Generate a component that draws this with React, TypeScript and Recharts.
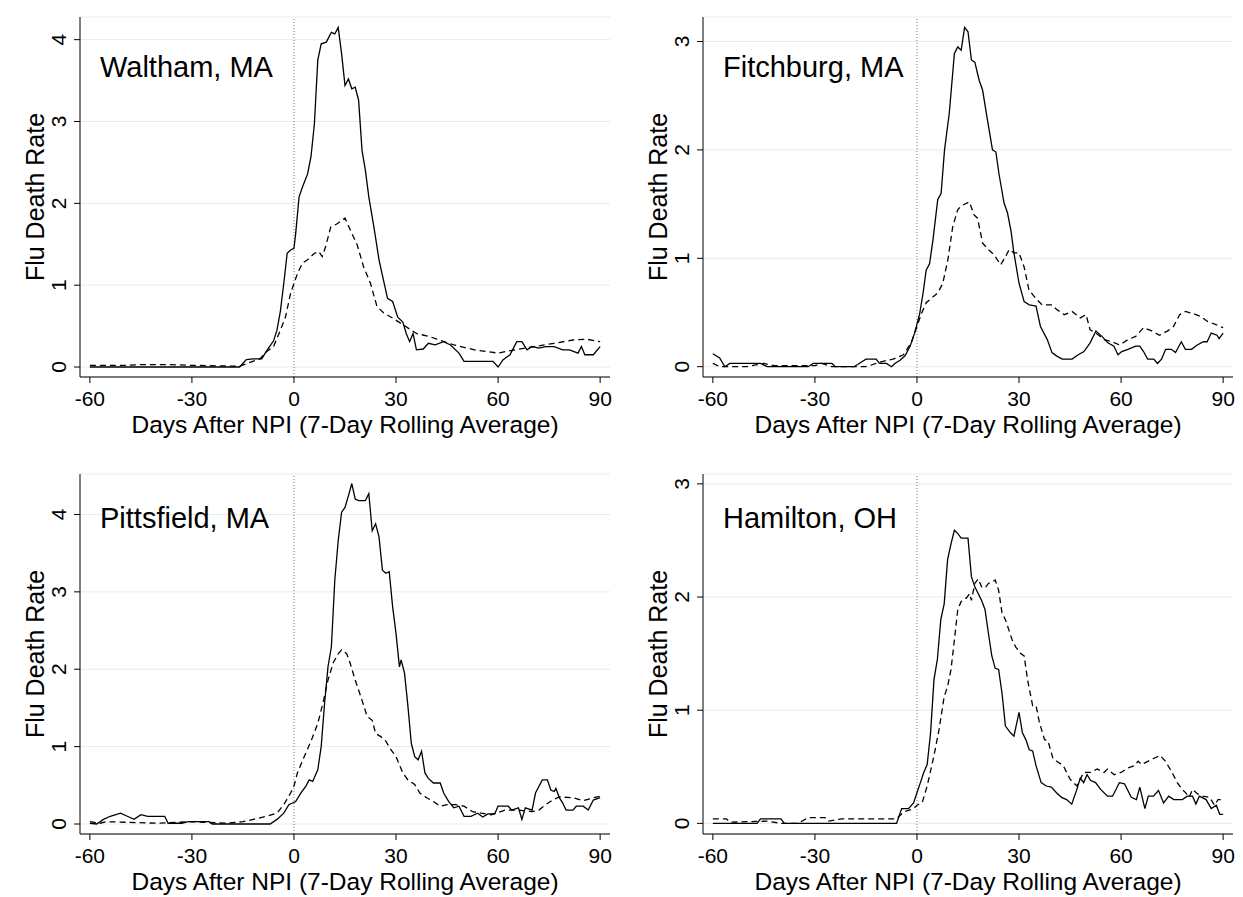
import React from 'react';
import { LineChart, Line, XAxis, YAxis, CartesianGrid, ReferenceLine } from 'recharts';

const FONT = '"Liberation Sans", Arial, Helvetica, sans-serif';

const dayTicks = [-60, -30, 0, 30, 60, 90];
const xTitle = 'Days After NPI (7-Day Rolling Average)';
const yTitle = 'Flu Death Rate';

// [day, rate] pairs: solid = city, dashed = comparison
const walthamCity = [
    [-60, 0], [-16, 0], [-14, 0.09], [-12, 0.1], [-9.5, 0.1], [-8, 0.2], [-6, 0.32], [-5, 0.45], [-4, 0.68],
    [-3, 1.02], [-2, 1.39], [-1, 1.43], [0, 1.45], [0.5, 1.63], [1.5, 2.08], [2.5, 2.2], [4, 2.36], [5, 2.57],
    [6, 2.97], [7, 3.75], [8, 3.95], [9.5, 3.97], [11, 4.09], [12, 4.07], [13, 4.15], [14, 3.83], [15, 3.44],
    [16, 3.52], [17, 3.4], [18, 3.42], [19, 3.26], [20, 2.65], [21, 2.4], [22, 2.08], [23.5, 1.71], [25, 1.31],
    [26, 1.12], [27.5, 0.84], [29, 0.8], [30.5, 0.61], [32, 0.55], [33, 0.41], [34, 0.31], [35, 0.41], [36, 0.21],
    [38, 0.22], [39.5, 0.29], [41.5, 0.27], [44, 0.31], [46, 0.27], [48.5, 0.17], [50, 0.07], [58.5, 0.07],
    [60, 0], [61.5, 0.09], [63.5, 0.15], [65.5, 0.31], [67, 0.31], [68.5, 0.21], [70, 0.25], [72, 0.23],
    [74, 0.25], [76.5, 0.25], [79, 0.21], [81, 0.21], [83.5, 0.17], [84.5, 0.25], [85.5, 0.15], [88, 0.15], [90, 0.25],
];
const walthamComparison = [
    [-60, 0.02], [-50, 0.02], [-45, 0.03], [-37, 0.03], [-30, 0.02], [-16, 0.01], [-14, 0.04], [-10, 0.1],
    [-8, 0.19], [-6, 0.25], [-4, 0.45], [-2.5, 0.61], [-1, 0.9], [0, 1.02], [1, 1.14], [2.5, 1.27], [4, 1.31],
    [6, 1.39], [7.3, 1.41], [8.3, 1.35], [9.3, 1.47], [10.8, 1.71], [12.7, 1.75], [15, 1.82], [16.6, 1.67],
    [18.6, 1.49], [20.5, 1.22], [22.5, 1.02], [24.4, 0.74], [26.4, 0.66], [29.3, 0.59], [32.3, 0.51], [36, 0.41],
    [40, 0.37], [42, 0.34], [47, 0.27], [53, 0.21], [60, 0.17], [65, 0.21], [70.5, 0.25], [76.5, 0.29],
    [82, 0.33], [86, 0.34], [90, 0.31],
];

const fitchburgCity = [
    [-60, 0.12], [-58, 0.08], [-56.5, 0], [-55, 0.03], [-46, 0.03], [-44, 0], [-32, 0], [-30.5, 0.03], [-25, 0.03],
    [-24, 0], [-18.5, 0], [-17, 0.03], [-15, 0.07], [-12, 0.07], [-11, 0.03], [-9, 0.03], [-7.5, 0], [-6.5, 0.03],
    [-5, 0.06], [-3.5, 0.1], [-2, 0.19], [-0.7, 0.31], [0.8, 0.49], [1.8, 0.68], [2.7, 0.89], [3.7, 0.95],
    [4.7, 1.17], [6.1, 1.54], [7.1, 1.6], [8.1, 2.0], [9.5, 2.34], [11, 2.89], [12, 2.95], [13, 2.92], [14, 3.13],
    [15, 3.09], [16, 2.83], [17, 2.81], [18.3, 2.64], [19.3, 2.55], [20.7, 2.28], [22.2, 2.0], [23.2, 1.98],
    [24.1, 1.78], [25.6, 1.51], [26.6, 1.42], [27.6, 1.26], [28.5, 1.05], [30, 0.77], [31.5, 0.6], [33, 0.57],
    [35, 0.56], [36.3, 0.37], [38.3, 0.25], [39.7, 0.13], [41, 0.1], [42.7, 0.07], [45.6, 0.07], [47.4, 0.11],
    [49.1, 0.14], [50.9, 0.22], [52.6, 0.33], [54.4, 0.28], [56.1, 0.22], [57.9, 0.19], [59.1, 0.11], [60.2, 0.14],
    [62, 0.16], [64.3, 0.19], [65.5, 0.19], [66.6, 0.14], [67.8, 0.07], [69.6, 0.07], [70.7, 0.03], [71.9, 0.07],
    [73.1, 0.16], [74.8, 0.16], [76, 0.13], [77.7, 0.23], [78.9, 0.16], [80.7, 0.16], [82.4, 0.2], [84.2, 0.23],
    [85.3, 0.23], [86.5, 0.31], [88.2, 0.29], [88.8, 0.26], [90, 0.31],
];
const fitchburgComparison = [
    [-60, 0.03], [-58, 0], [-50, 0], [-47, 0.02], [-45, 0.03], [-42, 0.01], [-30, 0.01], [-28, 0.03], [-25, 0],
    [-15, 0], [-10, 0.05], [-7, 0.07], [-4, 0.11], [-1.7, 0.22], [0, 0.37], [1.3, 0.49], [2.7, 0.59], [4.2, 0.63],
    [6.1, 0.68], [7.6, 0.77], [9.1, 0.99], [10.5, 1.29], [12, 1.45], [13.4, 1.49], [15.4, 1.52], [16.8, 1.4],
    [17.8, 1.37], [19.3, 1.14], [20.7, 1.09], [22.7, 1.03], [24.6, 0.94], [26.1, 1.02], [27.1, 1.08], [28.5, 1.05],
    [30, 1.05], [31.5, 0.92], [32.9, 0.71], [34.9, 0.63], [36.8, 0.57], [39.7, 0.57], [41, 0.53], [43.3, 0.48],
    [45.6, 0.51], [48, 0.45], [49.7, 0.48], [50.9, 0.34], [52.6, 0.31], [55, 0.25], [57.3, 0.23], [59.6, 0.2],
    [62, 0.25], [64.3, 0.28], [66.6, 0.36], [69, 0.33], [71.3, 0.29], [73.7, 0.33], [75.4, 0.37], [77.2, 0.48],
    [78.9, 0.51], [81.2, 0.49], [83.6, 0.46], [85.3, 0.42], [87.7, 0.39], [90, 0.36],
];

const pittsfieldCity = [
    [-60, 0.01], [-58, 0], [-56, 0.06], [-54, 0.1], [-51, 0.14], [-49, 0.1], [-47, 0.06], [-45, 0.12], [-43, 0.1],
    [-38, 0.1], [-37, 0.01], [-33, 0.01], [-31, 0.03], [-25, 0.03], [-24, 0], [-7, 0], [-5, 0.06], [-3, 0.14],
    [-1.5, 0.25], [0.5, 0.29], [2, 0.4], [3.5, 0.49], [4.5, 0.57], [5.5, 0.55], [7, 0.7], [8, 1.0], [9, 1.56],
    [10, 2.03], [11, 2.29], [12, 3.15], [13, 3.66], [14, 4.03], [15, 4.09], [16, 4.24], [17, 4.4], [18, 4.2],
    [19, 4.18], [21, 4.18], [22, 4.27], [23, 3.79], [24, 3.88], [25, 3.71], [26, 3.28], [27, 3.24], [28, 3.26],
    [29, 2.81], [30, 2.46], [31, 2.03], [31.5, 2.12], [32.5, 1.95], [33.5, 1.52], [34.5, 1.04], [35.5, 0.87],
    [36.5, 0.83], [37.5, 0.94], [38.5, 0.66], [39.5, 0.59], [41, 0.53], [43, 0.53], [44, 0.4], [45.5, 0.29],
    [47, 0.21], [48.5, 0.23], [50, 0.1], [52, 0.1], [54, 0.14], [55.5, 0.09], [57, 0.13], [59, 0.13], [60, 0.23],
    [63, 0.23], [64, 0.18], [66, 0.21], [67, 0.06], [68, 0.21], [70, 0.18], [71, 0.4], [73, 0.57], [74.5, 0.57],
    [75.5, 0.44], [76.5, 0.42], [77, 0.46], [78, 0.34], [79, 0.27], [80, 0.18], [82, 0.18], [83, 0.23], [85, 0.23],
    [86.5, 0.18], [88, 0.31], [90, 0.34],
];
const pittsfieldComparison = [
    [-60, 0.03], [-57, 0.01], [-55, 0.03], [-40, 0.01], [-30, 0.03], [-20, 0.01], [-15, 0.03], [-12, 0.06],
    [-8, 0.1], [-5, 0.14], [-3, 0.25], [-1, 0.4], [0, 0.49], [1, 0.66], [3, 0.87], [5, 1.07], [7, 1.3], [8.5, 1.56],
    [10, 1.86], [11.5, 2.08], [13, 2.2], [14, 2.25], [15.5, 2.2], [16.5, 2.08], [18, 1.86], [20, 1.6], [21.5, 1.39],
    [23, 1.34], [24, 1.17], [25.5, 1.13], [27, 1.07], [28.5, 0.96], [30, 0.87], [32, 0.66], [33.5, 0.57],
    [35.5, 0.51], [37, 0.4], [39, 0.34], [41, 0.29], [43, 0.23], [45, 0.25], [47.5, 0.25], [50, 0.23], [52.5, 0.16],
    [55, 0.14], [58, 0.12], [62, 0.18], [66, 0.18], [70, 0.16], [72, 0.18], [74, 0.25], [76, 0.31], [78, 0.35],
    [82, 0.34], [85, 0.3], [88, 0.34], [90, 0.36],
];

const hamiltonCity = [
    [-60, 0], [-47, 0], [-46, 0.04], [-40, 0.04], [-39, 0], [-6, 0], [-4.5, 0.13], [-2.5, 0.13], [-1, 0.18],
    [0, 0.27], [1, 0.36], [2, 0.45], [3, 0.52], [4, 0.8], [5, 1.27], [6, 1.45], [7, 1.8], [8, 1.94], [9, 2.33],
    [10, 2.47], [11, 2.59], [12, 2.56], [13, 2.52], [15, 2.52], [16, 2.18], [17, 2.09], [19, 1.97], [20, 1.89],
    [21, 1.68], [22, 1.48], [23, 1.37], [24, 1.36], [25, 1.15], [26, 0.86], [27.5, 0.8], [28.5, 0.77], [30, 0.98],
    [31, 0.8], [32, 0.74], [33, 0.65], [34, 0.64], [35, 0.51], [36.5, 0.36], [38, 0.33], [39.5, 0.32], [41, 0.27],
    [42.5, 0.23], [44, 0.21], [45.5, 0.17], [47, 0.3], [48, 0.4], [49, 0.36], [50, 0.43], [51, 0.38], [52.5, 0.36],
    [54, 0.3], [56, 0.24], [57.5, 0.24], [59.5, 0.36], [61, 0.35], [63, 0.23], [64.5, 0.21], [65.5, 0.32],
    [67, 0.13], [68, 0.24], [69.5, 0.24], [71, 0.29], [72.5, 0.18], [74, 0.24], [75.5, 0.21], [78, 0.21],
    [79.5, 0.24], [81, 0.24], [82, 0.17], [83, 0.24], [85, 0.21], [86.5, 0.13], [88, 0.16], [89, 0.08], [90, 0.08],
];
const hamiltonComparison = [
    [-60, 0.04], [-56, 0.04], [-55, 0.01], [-44, 0.02], [-40, 0], [-35, 0], [-32, 0.05], [-27, 0.05], [-26, 0.02],
    [-22, 0.04], [-13, 0.04], [-10, 0.04], [-6, 0.04], [-4, 0.1], [-1, 0.13], [0, 0.16], [1.5, 0.18], [3, 0.33],
    [5, 0.6], [6.5, 0.83], [8, 1.12], [9, 1.21], [10, 1.36], [11, 1.62], [12, 1.89], [13, 1.96], [14.5, 1.99],
    [15.5, 2.03], [16, 1.97], [17, 2.12], [18, 2.16], [19, 2.09], [20, 2.08], [21, 2.12], [22, 2.13], [23, 2.15],
    [24, 2.06], [25, 1.86], [26, 1.8], [27, 1.71], [28, 1.62], [29, 1.56], [30.5, 1.5], [31.5, 1.48], [32.5, 1.27],
    [34, 1.04], [35, 1.04], [36, 0.89], [37.5, 0.74], [38.5, 0.73], [40, 0.57], [41.5, 0.54], [43, 0.51],
    [45, 0.39], [47, 0.33], [49, 0.45], [51, 0.45], [53, 0.48], [55, 0.45], [56, 0.48], [58, 0.43], [60, 0.45],
    [62, 0.49], [64, 0.51], [65, 0.55], [66, 0.52], [68, 0.55], [70, 0.58], [71.5, 0.6], [73, 0.55], [75, 0.45],
    [76.5, 0.36], [78, 0.3], [79, 0.27], [80, 0.23], [81, 0.3], [82.5, 0.26], [84, 0.24], [86, 0.23], [87.5, 0.16],
    [88.5, 0.21], [90, 0.21],
];

const toRows = (pts: number[][]) => pts.map(([day, rate]) => ({ day, rate }));

const panels = [
    { title: 'Waltham, MA', city: walthamCity, comparison: walthamComparison, yTicks: [0, 1, 2, 3, 4], yDomain: [-0.122, 4.277], left: 0, top: 0, titleY: 77 },
    { title: 'Fitchburg, MA', city: fitchburgCity, comparison: fitchburgComparison, yTicks: [0, 1, 2, 3], yDomain: [-0.095, 3.226], left: 623, top: 0, titleY: 77 },
    { title: 'Pittsfield, MA', city: pittsfieldCity, comparison: pittsfieldComparison, yTicks: [0, 1, 2, 3, 4], yDomain: [-0.129, 4.523], left: 0, top: 457, titleY: 71 },
    { title: 'Hamilton, OH', city: hamiltonCity, comparison: hamiltonComparison, yTicks: [0, 1, 2, 3], yDomain: [-0.094, 3.087], left: 623, top: 457, titleY: 71 },
];

const XTick = ({ x, y, payload }: any) => (
    <text x={x} y={y + 21} textAnchor="middle" fontSize={21} fontFamily={FONT} fill="#000">
        {payload.value}
    </text>
);

const YTick = ({ x, y, payload }: any) => (
    <text transform={`translate(${x - 6.5},${y}) rotate(-90)`} textAnchor="middle" fontSize={21} fontFamily={FONT} fill="#000">
        {payload.value}
    </text>
);

const Panel = ({ p }: any) => (
    <div style={{ position: 'absolute', left: p.left, top: p.top, width: 620, height: 440 }}>
        <LineChart width={620} height={440} margin={{ top: 17, right: 10, bottom: 8, left: 30 }}>
            <CartesianGrid vertical={false} stroke="#e3eded" strokeWidth={1} />
            <XAxis
                type="number"
                dataKey="day"
                domain={[-62.9, 92.9]}
                ticks={dayTicks}
                allowDataOverflow
                height={55}
                tickSize={6}
                tickMargin={2}
                stroke="#000"
                tick={<XTick />}
            />
            <YAxis
                type="number"
                domain={p.yDomain}
                ticks={p.yTicks}
                allowDataOverflow
                width={50}
                tickSize={6}
                tickMargin={2}
                stroke="#000"
                tick={<YTick />}
            />
            <ReferenceLine x={0} stroke="#777" strokeDasharray="1 2" strokeWidth={1} />
            <Line
                data={toRows(p.comparison)}
                dataKey="rate"
                type="linear"
                stroke="#000"
                strokeWidth={1.3}
                strokeDasharray="6 4"
                dot={false}
                activeDot={false}
                isAnimationActive={false}
            />
            <Line
                data={toRows(p.city)}
                dataKey="rate"
                type="linear"
                stroke="#000"
                strokeWidth={1.3}
                dot={false}
                activeDot={false}
                isAnimationActive={false}
            />
        </LineChart>
        <svg width={620} height={440} style={{ position: 'absolute', left: 0, top: 0, pointerEvents: 'none' }}>
            <text x={100} y={p.titleY} fontSize={29} fontFamily={FONT} fill="#000">{p.title}</text>
            <text x={345} y={433} textAnchor="middle" fontSize={24.5} fontFamily={FONT} fill="#000">{xTitle}</text>
            <text transform="translate(44,197) rotate(-90)" textAnchor="middle" fontSize={25} fontFamily={FONT} fill="#000">
                {yTitle}
            </text>
        </svg>
    </div>
);

export default function App() {
    return (
        <div style={{ position: 'absolute', left: 0, top: 0, width: 1243, height: 897, background: '#fff' }}>
            {panels.map((p) => (
                <Panel key={p.title} p={p} />
            ))}
        </div>
    );
}
